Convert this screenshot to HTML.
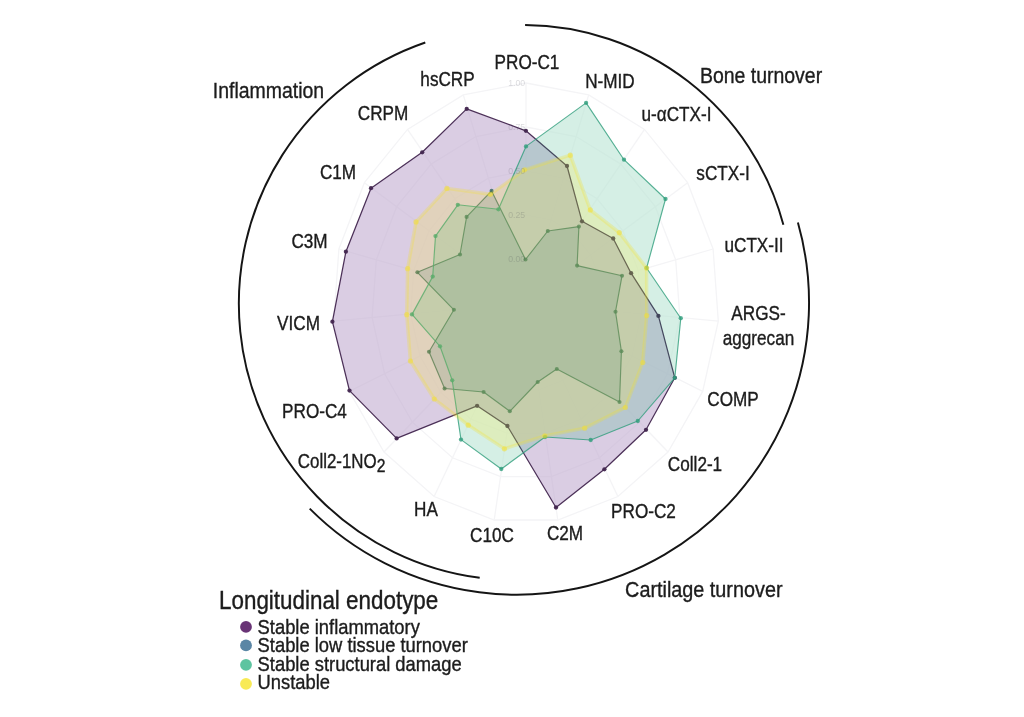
<!DOCTYPE html>
<html><head><meta charset="utf-8"><title>Radar chart</title>
<style>
html,body{margin:0;padding:0;background:#fff;}
body{width:1024px;height:717px;position:relative;overflow:hidden;font-family:"Liberation Sans",sans-serif;}
svg text{font-family:"Liberation Sans",sans-serif;}
</style></head><body>
<svg width="1024" height="717" viewBox="0 0 1024 717" style="position:absolute;left:0;top:0;filter:blur(0.55px)">
<rect width="100%" height="100%" fill="#fff"/>
<g fill="none" stroke="#f4f4f6" stroke-width="1.3"><polygon points="526.0,215.0 551.1,219.8 573.4,233.6 590.6,254.9 600.8,281.4 602.9,310.3 596.7,338.3 582.8,362.6 562.7,380.4 538.7,389.8 513.3,389.8 489.3,380.4 469.2,362.6 455.3,338.3 449.1,310.3 451.2,281.4 461.4,254.9 478.6,233.6 500.9,219.8"/><polygon points="526.0,171.0 563.6,178.2 597.1,198.8 622.9,230.8 638.3,270.6 641.4,313.9 632.0,356.0 611.2,392.4 581.1,419.1 545.1,433.2 506.9,433.2 470.9,419.1 440.8,392.4 420.0,356.0 410.6,313.9 413.7,270.6 429.1,230.8 454.9,198.8 488.4,178.2"/><polygon points="526.0,127.0 576.1,136.5 620.8,164.1 655.3,206.7 675.7,259.8 679.9,317.5 667.4,373.7 639.6,422.2 599.5,457.8 551.4,476.6 500.6,476.6 452.5,457.8 412.4,422.2 384.6,373.7 372.1,317.5 376.3,259.8 396.7,206.7 431.2,164.1 475.9,136.5"/><polygon points="526.0,83.0 588.7,94.9 644.5,129.4 687.6,182.7 713.1,249.0 718.3,321.2 702.7,391.4 668.0,452.0 617.9,496.5 557.8,520.0 494.2,520.0 434.1,496.5 384.0,452.0 349.3,391.4 333.7,321.2 338.9,249.0 364.4,182.7 407.5,129.4 463.3,94.9"/><line x1="526.0" y1="259.0" x2="526.0" y2="83.0"/><line x1="538.5" y1="261.4" x2="588.7" y2="94.9"/><line x1="549.7" y1="268.3" x2="644.5" y2="129.4"/><line x1="558.3" y1="278.9" x2="687.6" y2="182.7"/><line x1="563.4" y1="292.2" x2="713.1" y2="249.0"/><line x1="564.5" y1="306.6" x2="718.3" y2="321.2"/><line x1="561.3" y1="320.7" x2="702.7" y2="391.4"/><line x1="554.4" y1="332.8" x2="668.0" y2="452.0"/><line x1="544.4" y1="341.7" x2="617.9" y2="496.5"/><line x1="532.4" y1="346.4" x2="557.8" y2="520.0"/><line x1="519.6" y1="346.4" x2="494.2" y2="520.0"/><line x1="507.6" y1="341.7" x2="434.1" y2="496.5"/><line x1="497.6" y1="332.8" x2="384.0" y2="452.0"/><line x1="490.7" y1="320.7" x2="349.3" y2="391.4"/><line x1="487.5" y1="306.6" x2="333.7" y2="321.2"/><line x1="488.6" y1="292.2" x2="338.9" y2="249.0"/><line x1="493.7" y1="278.9" x2="364.4" y2="182.7"/><line x1="502.3" y1="268.3" x2="407.5" y2="129.4"/><line x1="513.5" y1="261.4" x2="463.3" y2="94.9"/></g>
<polygon points="525.9,130.8 567.0,166.0 582.0,221.3 613.2,238.5 631.1,273.2 658.4,315.9 674.8,377.8 646.0,429.8 604.4,469.3 556.0,507.5 507.4,426.0 477.1,405.8 396.6,438.4 349.5,390.6 332.4,321.7 345.9,251.7 371.0,188.2 422.2,152.3 466.7,108.9" fill="#fff" fill-opacity="0.6"/>
<polygon points="525.5,259.5 547.8,231.0 578.9,226.6 577.1,265.6 622.0,275.8 615.5,311.7 621.4,351.3 619.5,402.0 556.8,369.0 537.7,382.0 509.8,411.3 483.6,392.0 444.6,388.5 429.0,351.7 453.9,309.8 417.4,272.3 460.0,254.5 466.6,216.9 491.6,190.9" fill="#fff" fill-opacity="0.6"/>
<polygon points="526.0,146.4 586.1,102.9 624.0,159.7 665.5,199.0 646.6,268.0 680.8,318.2 674.8,377.8 637.8,421.0 590.7,440.0 545.0,437.0 501.3,469.0 461.0,439.6 452.2,380.3 440.0,346.3 412.0,314.4 432.7,276.6 435.5,236.1 457.8,204.8 498.4,209.3" fill="#fff" fill-opacity="0.6"/>
<polygon points="524.4,169.8 570.3,155.2 590.3,209.9 619.3,232.7 646.6,268.0 646.7,315.6 642.8,362.5 625.3,407.5 584.7,428.2 544.8,435.8 504.4,448.8 468.2,425.2 434.3,399.0 410.4,361.0 406.7,314.7 407.6,268.7 416.0,221.9 446.9,188.4 490.4,194.3" fill="#fff" fill-opacity="0.6"/>
<polygon points="525.9,130.8 567.0,166.0 582.0,221.3 613.2,238.5 631.1,273.2 658.4,315.9 674.8,377.8 646.0,429.8 604.4,469.3 556.0,507.5 507.4,426.0 477.1,405.8 396.6,438.4 349.5,390.6 332.4,321.7 345.9,251.7 371.0,188.2 422.2,152.3 466.7,108.9" fill="#480673" fill-opacity="0.2" stroke="#42264f" stroke-opacity="0.95" stroke-width="1.25" stroke-linejoin="round"/>
<circle cx="525.9" cy="130.8" r="2.15" fill="#42264f" fill-opacity="0.95"/>
<circle cx="567.0" cy="166.0" r="2.15" fill="#42264f" fill-opacity="0.95"/>
<circle cx="582.0" cy="221.3" r="2.15" fill="#42264f" fill-opacity="0.95"/>
<circle cx="613.2" cy="238.5" r="2.15" fill="#42264f" fill-opacity="0.95"/>
<circle cx="631.1" cy="273.2" r="2.15" fill="#42264f" fill-opacity="0.95"/>
<circle cx="658.4" cy="315.9" r="2.15" fill="#42264f" fill-opacity="0.95"/>
<circle cx="674.8" cy="377.8" r="2.15" fill="#42264f" fill-opacity="0.95"/>
<circle cx="646.0" cy="429.8" r="2.15" fill="#42264f" fill-opacity="0.95"/>
<circle cx="604.4" cy="469.3" r="2.15" fill="#42264f" fill-opacity="0.95"/>
<circle cx="556.0" cy="507.5" r="2.15" fill="#42264f" fill-opacity="0.95"/>
<circle cx="507.4" cy="426.0" r="2.15" fill="#42264f" fill-opacity="0.95"/>
<circle cx="477.1" cy="405.8" r="2.15" fill="#42264f" fill-opacity="0.95"/>
<circle cx="396.6" cy="438.4" r="2.15" fill="#42264f" fill-opacity="0.95"/>
<circle cx="349.5" cy="390.6" r="2.15" fill="#42264f" fill-opacity="0.95"/>
<circle cx="332.4" cy="321.7" r="2.15" fill="#42264f" fill-opacity="0.95"/>
<circle cx="345.9" cy="251.7" r="2.15" fill="#42264f" fill-opacity="0.95"/>
<circle cx="371.0" cy="188.2" r="2.15" fill="#42264f" fill-opacity="0.95"/>
<circle cx="422.2" cy="152.3" r="2.15" fill="#42264f" fill-opacity="0.95"/>
<circle cx="466.7" cy="108.9" r="2.15" fill="#42264f" fill-opacity="0.95"/>

<polygon points="525.5,259.5 547.8,231.0 578.9,226.6 577.1,265.6 622.0,275.8 615.5,311.7 621.4,351.3 619.5,402.0 556.8,369.0 537.7,382.0 509.8,411.3 483.6,392.0 444.6,388.5 429.0,351.7 453.9,309.8 417.4,272.3 460.0,254.5 466.6,216.9 491.6,190.9" fill="#31688E" fill-opacity="0.2" stroke="#35665f" stroke-opacity="0.8" stroke-width="1.15" stroke-linejoin="round"/>
<circle cx="525.5" cy="259.5" r="2.05" fill="#35665f" fill-opacity="0.8"/>
<circle cx="547.8" cy="231.0" r="2.05" fill="#35665f" fill-opacity="0.8"/>
<circle cx="578.9" cy="226.6" r="2.05" fill="#35665f" fill-opacity="0.8"/>
<circle cx="577.1" cy="265.6" r="2.05" fill="#35665f" fill-opacity="0.8"/>
<circle cx="622.0" cy="275.8" r="2.05" fill="#35665f" fill-opacity="0.8"/>
<circle cx="615.5" cy="311.7" r="2.05" fill="#35665f" fill-opacity="0.8"/>
<circle cx="621.4" cy="351.3" r="2.05" fill="#35665f" fill-opacity="0.8"/>
<circle cx="619.5" cy="402.0" r="2.05" fill="#35665f" fill-opacity="0.8"/>
<circle cx="556.8" cy="369.0" r="2.05" fill="#35665f" fill-opacity="0.8"/>
<circle cx="537.7" cy="382.0" r="2.05" fill="#35665f" fill-opacity="0.8"/>
<circle cx="509.8" cy="411.3" r="2.05" fill="#35665f" fill-opacity="0.8"/>
<circle cx="483.6" cy="392.0" r="2.05" fill="#35665f" fill-opacity="0.8"/>
<circle cx="444.6" cy="388.5" r="2.05" fill="#35665f" fill-opacity="0.8"/>
<circle cx="429.0" cy="351.7" r="2.05" fill="#35665f" fill-opacity="0.8"/>
<circle cx="453.9" cy="309.8" r="2.05" fill="#35665f" fill-opacity="0.8"/>
<circle cx="417.4" cy="272.3" r="2.05" fill="#35665f" fill-opacity="0.8"/>
<circle cx="460.0" cy="254.5" r="2.05" fill="#35665f" fill-opacity="0.8"/>
<circle cx="466.6" cy="216.9" r="2.05" fill="#35665f" fill-opacity="0.8"/>
<circle cx="491.6" cy="190.9" r="2.05" fill="#35665f" fill-opacity="0.8"/>

<polygon points="526.0,146.4 586.1,102.9 624.0,159.7 665.5,199.0 646.6,268.0 680.8,318.2 674.8,377.8 637.8,421.0 590.7,440.0 545.0,437.0 501.3,469.0 461.0,439.6 452.2,380.3 440.0,346.3 412.0,314.4 432.7,276.6 435.5,236.1 457.8,204.8 498.4,209.3" fill="#2fb07f" fill-opacity="0.2" stroke="#2f9e7c" stroke-opacity="0.8" stroke-width="1.15" stroke-linejoin="round"/>
<circle cx="526.0" cy="146.4" r="2.15" fill="#2f9e7c" fill-opacity="0.8"/>
<circle cx="586.1" cy="102.9" r="2.15" fill="#2f9e7c" fill-opacity="0.8"/>
<circle cx="624.0" cy="159.7" r="2.15" fill="#2f9e7c" fill-opacity="0.8"/>
<circle cx="665.5" cy="199.0" r="2.15" fill="#2f9e7c" fill-opacity="0.8"/>
<circle cx="646.6" cy="268.0" r="2.15" fill="#2f9e7c" fill-opacity="0.8"/>
<circle cx="680.8" cy="318.2" r="2.15" fill="#2f9e7c" fill-opacity="0.8"/>
<circle cx="674.8" cy="377.8" r="2.15" fill="#2f9e7c" fill-opacity="0.8"/>
<circle cx="637.8" cy="421.0" r="2.15" fill="#2f9e7c" fill-opacity="0.8"/>
<circle cx="590.7" cy="440.0" r="2.15" fill="#2f9e7c" fill-opacity="0.8"/>
<circle cx="545.0" cy="437.0" r="2.15" fill="#2f9e7c" fill-opacity="0.8"/>
<circle cx="501.3" cy="469.0" r="2.15" fill="#2f9e7c" fill-opacity="0.8"/>
<circle cx="461.0" cy="439.6" r="2.15" fill="#2f9e7c" fill-opacity="0.8"/>
<circle cx="452.2" cy="380.3" r="2.15" fill="#2f9e7c" fill-opacity="0.8"/>
<circle cx="440.0" cy="346.3" r="2.15" fill="#2f9e7c" fill-opacity="0.8"/>
<circle cx="412.0" cy="314.4" r="2.15" fill="#2f9e7c" fill-opacity="0.8"/>
<circle cx="432.7" cy="276.6" r="2.15" fill="#2f9e7c" fill-opacity="0.8"/>
<circle cx="435.5" cy="236.1" r="2.15" fill="#2f9e7c" fill-opacity="0.8"/>
<circle cx="457.8" cy="204.8" r="2.15" fill="#2f9e7c" fill-opacity="0.8"/>
<circle cx="498.4" cy="209.3" r="2.15" fill="#2f9e7c" fill-opacity="0.8"/>

<polygon points="524.4,169.8 570.3,155.2 590.3,209.9 619.3,232.7 646.6,268.0 646.7,315.6 642.8,362.5 625.3,407.5 584.7,428.2 544.8,435.8 504.4,448.8 468.2,425.2 434.3,399.0 410.4,361.0 406.7,314.7 407.6,268.7 416.0,221.9 446.9,188.4 490.4,194.3" fill="#FDE725" fill-opacity="0.2" stroke="#f5e02a" stroke-opacity="0.27" stroke-width="3.4" stroke-linejoin="round"/>
<circle cx="524.4" cy="169.8" r="2.6" fill="#f5e02a" fill-opacity="0.5"/>
<circle cx="570.3" cy="155.2" r="2.6" fill="#f5e02a" fill-opacity="0.5"/>
<circle cx="590.3" cy="209.9" r="2.6" fill="#f5e02a" fill-opacity="0.5"/>
<circle cx="619.3" cy="232.7" r="2.6" fill="#f5e02a" fill-opacity="0.5"/>
<circle cx="646.6" cy="268.0" r="2.6" fill="#f5e02a" fill-opacity="0.5"/>
<circle cx="646.7" cy="315.6" r="2.6" fill="#f5e02a" fill-opacity="0.5"/>
<circle cx="642.8" cy="362.5" r="2.6" fill="#f5e02a" fill-opacity="0.5"/>
<circle cx="625.3" cy="407.5" r="2.6" fill="#f5e02a" fill-opacity="0.5"/>
<circle cx="584.7" cy="428.2" r="2.6" fill="#f5e02a" fill-opacity="0.5"/>
<circle cx="544.8" cy="435.8" r="2.6" fill="#f5e02a" fill-opacity="0.5"/>
<circle cx="504.4" cy="448.8" r="2.6" fill="#f5e02a" fill-opacity="0.5"/>
<circle cx="468.2" cy="425.2" r="2.6" fill="#f5e02a" fill-opacity="0.5"/>
<circle cx="434.3" cy="399.0" r="2.6" fill="#f5e02a" fill-opacity="0.5"/>
<circle cx="410.4" cy="361.0" r="2.6" fill="#f5e02a" fill-opacity="0.5"/>
<circle cx="406.7" cy="314.7" r="2.6" fill="#f5e02a" fill-opacity="0.5"/>
<circle cx="407.6" cy="268.7" r="2.6" fill="#f5e02a" fill-opacity="0.5"/>
<circle cx="416.0" cy="221.9" r="2.6" fill="#f5e02a" fill-opacity="0.5"/>
<circle cx="446.9" cy="188.4" r="2.6" fill="#f5e02a" fill-opacity="0.5"/>
<circle cx="490.4" cy="194.3" r="2.6" fill="#f5e02a" fill-opacity="0.5"/>

<text transform="translate(525.2 262.4) scale(0.91 1)" font-size="9.6" text-anchor="end" fill="rgba(40,40,60,0.17)">0.00</text>
<text transform="translate(525.2 218.4) scale(0.91 1)" font-size="9.6" text-anchor="end" fill="rgba(40,40,60,0.17)">0.25</text>
<text transform="translate(525.2 174.4) scale(0.91 1)" font-size="9.6" text-anchor="end" fill="rgba(40,40,60,0.17)">0.50</text>
<text transform="translate(525.2 130.4) scale(0.91 1)" font-size="9.6" text-anchor="end" fill="rgba(40,40,60,0.17)">0.75</text>
<text transform="translate(525.2 86.4) scale(0.91 1)" font-size="9.6" text-anchor="end" fill="rgba(40,40,60,0.17)">1.00</text>
<path d="M425.3 42.5 A276.3 276.3 0 0 0 479.7 577.8" fill="none" stroke="#151515" stroke-width="1.95"/>
<path d="M309.7 508.6 A292.2 292.2 0 0 0 797.9 222.6" fill="none" stroke="#151515" stroke-width="1.95"/>
<path d="M525.1 25.0 A269.3 269.3 0 0 1 783.4 224.8" fill="none" stroke="#151515" stroke-width="1.95"/>
<text transform="translate(527.0 68.8) scale(0.845 1)" font-size="20.3" text-anchor="middle" fill="#1c1c1c" stroke="#1c1c1c" stroke-width="0.38">PRO-C1</text>
<text transform="translate(610.0 88.3) scale(0.845 1)" font-size="20.3" text-anchor="middle" fill="#1c1c1c" stroke="#1c1c1c" stroke-width="0.38">N-MID</text>
<text transform="translate(676.5 121.0) scale(0.845 1)" font-size="20.3" text-anchor="middle" fill="#1c1c1c" stroke="#1c1c1c" stroke-width="0.38">u-αCTX-I</text>
<text transform="translate(723.0 180.3) scale(0.845 1)" font-size="20.3" text-anchor="middle" fill="#1c1c1c" stroke="#1c1c1c" stroke-width="0.38">sCTX-I</text>
<text transform="translate(754.0 252.3) scale(0.845 1)" font-size="20.3" text-anchor="middle" fill="#1c1c1c" stroke="#1c1c1c" stroke-width="0.38">uCTX-II</text>
<text transform="translate(758.5 319.7) scale(0.845 1)" font-size="20.3" text-anchor="middle" fill="#1c1c1c" stroke="#1c1c1c" stroke-width="0.38">ARGS-</text>
<text transform="translate(758.5 344.5) scale(0.845 1)" font-size="20.3" text-anchor="middle" fill="#1c1c1c" stroke="#1c1c1c" stroke-width="0.38">aggrecan</text>
<text transform="translate(733.0 406.2) scale(0.845 1)" font-size="20.3" text-anchor="middle" fill="#1c1c1c" stroke="#1c1c1c" stroke-width="0.38">COMP</text>
<text transform="translate(695.0 471.1) scale(0.845 1)" font-size="20.3" text-anchor="middle" fill="#1c1c1c" stroke="#1c1c1c" stroke-width="0.38">Coll2-1</text>
<text transform="translate(643.5 518.0) scale(0.845 1)" font-size="20.3" text-anchor="middle" fill="#1c1c1c" stroke="#1c1c1c" stroke-width="0.38">PRO-C2</text>
<text transform="translate(565.0 539.8) scale(0.845 1)" font-size="20.3" text-anchor="middle" fill="#1c1c1c" stroke="#1c1c1c" stroke-width="0.38">C2M</text>
<text transform="translate(492.0 541.8) scale(0.845 1)" font-size="20.3" text-anchor="middle" fill="#1c1c1c" stroke="#1c1c1c" stroke-width="0.38">C10C</text>
<text transform="translate(426.0 516.2) scale(0.845 1)" font-size="20.3" text-anchor="middle" fill="#1c1c1c" stroke="#1c1c1c" stroke-width="0.38">HA</text>
<text transform="translate(314.5 417.8) scale(0.845 1)" font-size="20.3" text-anchor="middle" fill="#1c1c1c" stroke="#1c1c1c" stroke-width="0.38">PRO-C4</text>
<text transform="translate(298.5 329.8) scale(0.845 1)" font-size="20.3" text-anchor="middle" fill="#1c1c1c" stroke="#1c1c1c" stroke-width="0.38">VICM</text>
<text transform="translate(309.5 248.3) scale(0.845 1)" font-size="20.3" text-anchor="middle" fill="#1c1c1c" stroke="#1c1c1c" stroke-width="0.38">C3M</text>
<text transform="translate(338.0 179.3) scale(0.845 1)" font-size="20.3" text-anchor="middle" fill="#1c1c1c" stroke="#1c1c1c" stroke-width="0.38">C1M</text>
<text transform="translate(383.0 119.8) scale(0.845 1)" font-size="20.3" text-anchor="middle" fill="#1c1c1c" stroke="#1c1c1c" stroke-width="0.38">CRPM</text>
<text transform="translate(447.5 85.9) scale(0.845 1)" font-size="20.3" text-anchor="middle" fill="#1c1c1c" stroke="#1c1c1c" stroke-width="0.38">hsCRP</text>
<text transform="translate(341.6 467.7) scale(0.845 1)" font-size="19.9955" text-anchor="middle" fill="#1c1c1c" stroke="#1c1c1c" stroke-width="0.38">Coll2-1NO<tspan dy="4.3" font-size="18.6">2</tspan></text>
<text transform="translate(268.5 97.5) scale(0.858 1)" font-size="22.7" text-anchor="middle" fill="#1c1c1c" stroke="#1c1c1c" stroke-width="0.38">Inflammation</text>
<text transform="translate(761.0 82.5) scale(0.858 1)" font-size="22.7" text-anchor="middle" fill="#1c1c1c" stroke="#1c1c1c" stroke-width="0.38">Bone turnover</text>
<text transform="translate(703.8 597.0) scale(0.873 1)" font-size="22.7" text-anchor="middle" fill="#1c1c1c" stroke="#1c1c1c" stroke-width="0.38">Cartilage turnover</text>
<text transform="translate(219.0 608.6) scale(0.886 1)" font-size="25.3" text-anchor="start" fill="#1c1c1c" stroke="#1c1c1c" stroke-width="0.38">Longitudinal endotype</text>
<circle cx="246" cy="626.9" r="5.9" fill="#693476"/>
<text transform="translate(257.6 633.5) scale(0.905 1)" font-size="20.3" text-anchor="start" fill="#1c1c1c" stroke="#1c1c1c" stroke-width="0.38">Stable inflammatory</text>
<circle cx="246" cy="645.4" r="5.9" fill="#5A86A5"/>
<text transform="translate(257.6 652.0) scale(0.905 1)" font-size="20.3" text-anchor="start" fill="#1c1c1c" stroke="#1c1c1c" stroke-width="0.38">Stable low tissue turnover</text>
<circle cx="246" cy="664.8" r="5.9" fill="#5EC4A0"/>
<text transform="translate(257.6 670.6) scale(0.905 1)" font-size="20.3" text-anchor="start" fill="#1c1c1c" stroke="#1c1c1c" stroke-width="0.38">Stable structural damage</text>
<circle cx="246" cy="683.8" r="5.9" fill="#F8EA55"/>
<text transform="translate(257.6 689.2) scale(0.905 1)" font-size="20.3" text-anchor="start" fill="#1c1c1c" stroke="#1c1c1c" stroke-width="0.38">Unstable</text>
</svg>
</body></html>
